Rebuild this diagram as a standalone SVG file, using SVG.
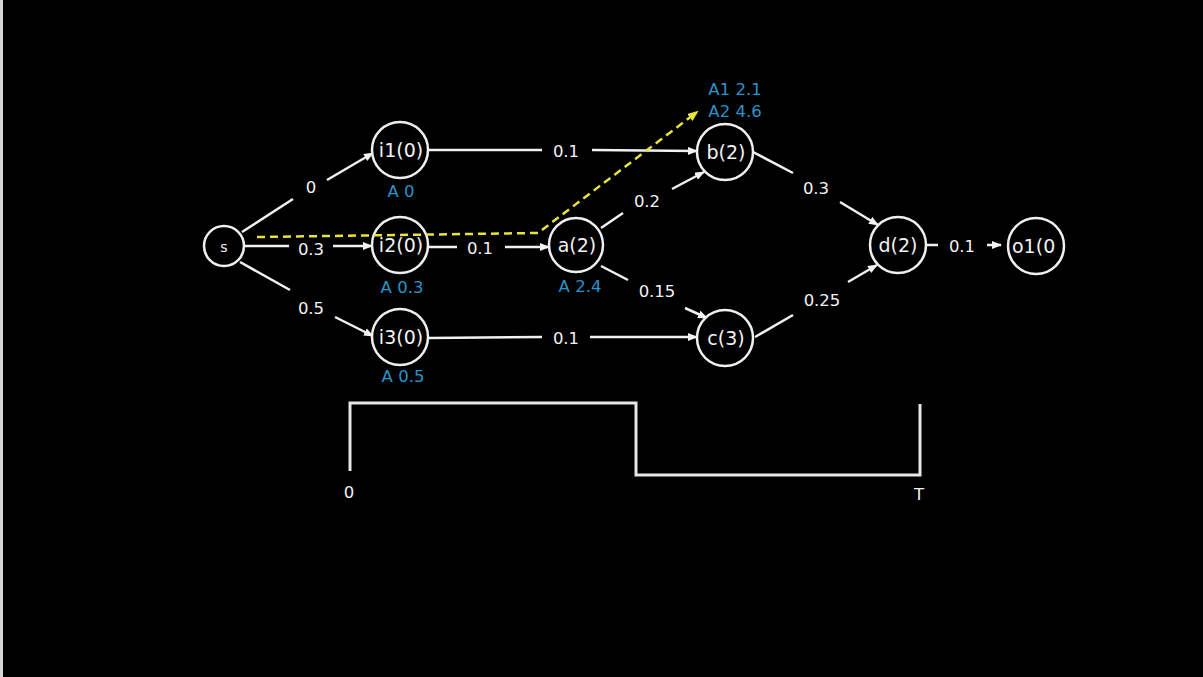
<svg xmlns="http://www.w3.org/2000/svg" width="1203" height="677" viewBox="0 0 1203 677">
  <defs>
    <marker id="arrow" markerUnits="userSpaceOnUse" markerWidth="10" markerHeight="8" refX="9" refY="4" orient="auto">
      <path d="M0,0 L10,4 L0,8 z" fill="#f2f2f2"/>
    </marker>
    <marker id="arrowY" markerUnits="userSpaceOnUse" markerWidth="11" markerHeight="9" refX="9" refY="4.5" orient="auto">
      <path d="M0,0 L11,4.5 L0,9 z" fill="#e8e23a"/>
    </marker>
    <style>
      .node circle { fill: #000; stroke: #efefef; stroke-width: 2.5; }
      .nl { font-family: "DejaVu Sans", sans-serif; font-size: 19px; fill: #f2f2f2; text-anchor: middle; }
      .el { font-family: "DejaVu Sans", sans-serif; font-size: 16.5px; fill: #f2f2f2; text-anchor: middle; }
      .al { font-family: "DejaVu Sans", sans-serif; font-size: 16.5px; fill: #2a93c9; text-anchor: middle; }
      .edge { stroke: #f0f0f0; stroke-width: 2.5; fill: none; }
      .ax { stroke: #e6e6e6; stroke-width: 3; fill: none; }
    </style>
  </defs>

  <rect x="0" y="0" width="1203" height="677" fill="#000"/>
  <rect x="0" y="0" width="3" height="677" fill="#d6d6d6"/>

  <!-- connectors: each edge split around its weight label -->
  <g id="connectors">
    <line class="edge" x1="242" y1="232" x2="293" y2="199"/>
    <line class="edge" x1="327" y1="180" x2="373" y2="153" marker-end="url(#arrow)"/>
    <line class="edge" x1="245" y1="246" x2="289" y2="246"/>
    <line class="edge" x1="333" y1="246" x2="372" y2="246" marker-end="url(#arrow)"/>
    <line class="edge" x1="240" y1="262" x2="290" y2="290"/>
    <line class="edge" x1="335" y1="317" x2="373" y2="336" marker-end="url(#arrow)"/>
    <line class="edge" x1="429" y1="150" x2="542" y2="150"/>
    <line class="edge" x1="592" y1="150" x2="697" y2="151" marker-end="url(#arrow)"/>
    <line class="edge" x1="429" y1="247" x2="457" y2="247"/>
    <line class="edge" x1="505" y1="247" x2="549" y2="247" marker-end="url(#arrow)"/>
    <line class="edge" x1="429" y1="338" x2="542" y2="337"/>
    <line class="edge" x1="590" y1="337" x2="697" y2="337" marker-end="url(#arrow)"/>
    <line class="edge" x1="601" y1="228" x2="623" y2="213"/>
    <line class="edge" x1="672" y1="189" x2="704" y2="172" marker-end="url(#arrow)"/>
    <line class="edge" x1="601" y1="266" x2="628" y2="280"/>
    <line class="edge" x1="685" y1="308" x2="707" y2="318" marker-end="url(#arrow)"/>
    <line class="edge" x1="753" y1="152" x2="793" y2="173"/>
    <line class="edge" x1="840" y1="202" x2="878" y2="225" marker-end="url(#arrow)"/>
    <line class="edge" x1="755" y1="337" x2="793" y2="315"/>
    <line class="edge" x1="848" y1="282" x2="877" y2="265" marker-end="url(#arrow)"/>
    <line class="edge" x1="926" y1="245" x2="938" y2="245"/>
    <line class="edge" x1="987" y1="245" x2="1001" y2="245" marker-end="url(#arrow)"/>
  </g>

  <!-- edge weights -->
  <g id="weights">
    <text class="el" x="311" y="193">0</text>
    <text class="el" x="311" y="255">0.3</text>
    <text class="el" x="311" y="314">0.5</text>
    <text class="el" x="566" y="157">0.1</text>
    <text class="el" x="480" y="254">0.1</text>
    <text class="el" x="566" y="344">0.1</text>
    <text class="el" x="647" y="207">0.2</text>
    <text class="el" x="657" y="297">0.15</text>
    <text class="el" x="816" y="194">0.3</text>
    <text class="el" x="822" y="306">0.25</text>
    <text class="el" x="962" y="252">0.1</text>
  </g>

  <!-- nodes -->
  <g id="node-s" class="node">
    <circle cx="224" cy="246" r="20"/>
    <text class="nl" x="224" y="252" style="font-size:14px">s</text>
  </g>
  <g id="node-i1" class="node">
    <circle cx="400" cy="150" r="28"/>
    <text class="nl" x="401" y="157">i1(0)</text>
    <text class="al" x="401" y="197">A 0</text>
  </g>
  <g id="node-i2" class="node">
    <circle cx="400" cy="245" r="28"/>
    <text class="nl" x="401" y="252">i2(0)</text>
    <text class="al" x="402" y="293">A 0.3</text>
  </g>
  <g id="node-i3" class="node">
    <circle cx="400" cy="337" r="28"/>
    <text class="nl" x="401" y="344">i3(0)</text>
    <text class="al" x="403" y="382">A 0.5</text>
  </g>
  <g id="node-a" class="node">
    <circle cx="576" cy="245" r="27"/>
    <text class="nl" x="577" y="252">a(2)</text>
    <text class="al" x="580" y="292">A 2.4</text>
  </g>
  <g id="node-b" class="node">
    <circle cx="725" cy="152" r="28"/>
    <text class="nl" x="726" y="159">b(2)</text>
    <text class="al" x="735" y="95">A1 2.1</text>
    <text class="al" x="735" y="117">A2 4.6</text>
  </g>
  <g id="node-c" class="node">
    <circle cx="725" cy="338" r="28"/>
    <text class="nl" x="726" y="345">c(3)</text>
  </g>
  <g id="node-d" class="node">
    <circle cx="898" cy="245" r="28"/>
    <text class="nl" x="898" y="252">d(2)</text>
  </g>
  <g id="node-o1" class="node">
    <circle cx="1036" cy="246" r="28"/>
    <text class="nl" x="1012" y="253" style="text-anchor:start">o1(0</text>
  </g>

  <!-- highlighted path, drawn over the nodes -->
  <g id="path-highlight">
    <path d="M257,237 L538,233 L697,112" stroke="#e8e23a" stroke-width="2.5" fill="none" stroke-dasharray="8,5" marker-end="url(#arrowY)"/>
  </g>

  <!-- time window from 0 to T -->
  <g id="timeline">
    <path class="ax" d="M350,471 V403 H636 V475 H920 V404"/>
    <text class="el" x="349" y="498">0</text>
    <text class="el" x="919" y="500">T</text>
  </g>
</svg>
